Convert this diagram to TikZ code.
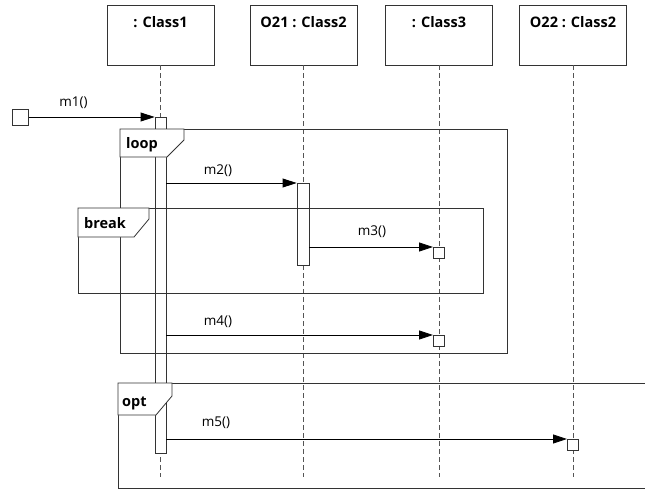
\documentclass[tikz,border=0pt]{standalone}
\usepackage{fontspec}
\setmainfont{Open Sans}
\usetikzlibrary{arrows.meta,positioning}
\definecolor{lineclr}{HTML}{333333}
\definecolor{lifeclr}{HTML}{555555}
\tikzset{
      headbox/.style={
        draw=lineclr,
        line width=0.8pt,
        minimum width=107pt,
        inner ysep=0pt,
        text height=22pt,
        text depth=38pt,
        font=\fontsize{14.5}{16}\selectfont\bfseries
      },
      lifeline/.style={draw=lifeclr, line width=0.8pt, dash pattern=on 5pt off 3pt},
      actbar/.style={draw=lineclr, fill=white, line width=0.8pt, minimum width=11pt, inner sep=0pt, anchor=north},
      endbox/.style={draw=lineclr, fill=white, line width=0.8pt, minimum size=11pt, inner sep=0pt, anchor=north west},
      msg/.style={-{Triangle[length=14pt,width=9pt]}, line width=0.8pt, draw=black},
      msglabel/.style={font=\fontsize{13.5}{15}\selectfont, inner sep=0pt},
      fragment/.style={draw=lineclr, line width=0.8pt},
      fragtab/.style={draw=lineclr, line width=0.8pt, fill=white},
      fraglabel/.style={font=\fontsize{14.5}{16}\selectfont\bfseries, anchor=west, inner sep=0pt}
    }
\begin{document}
\begin{tikzpicture}[x=1pt,y=-1pt]
    \clip (0,0) rectangle (645,490);
    % lifeline heads
    \node[headbox] (c1) at (160.5,35) {: Class1};
    \node[headbox] (o21) at (303.5,35) {O21 : Class2};
    \node[headbox] (c3) at (439,35) {: Class3};
    \node[headbox] (o22) at (573,35) {O22 : Class2};
    \coordinate (lifeend) at (0,477);
    \foreach \h in {c1,o21,c3,o22}
      \draw[lifeline] (\h.south) -- (\h.south |- lifeend);
    % activations
    \node[draw=lineclr, fill=white, line width=0.8pt, minimum width=16pt, minimum height=16pt, inner sep=0pt] (start) at (20.5,117) {};
    \node[actbar, minimum height=336pt] (act1) at (160.5,117) {};
    \node[actbar, minimum width=12pt, minimum height=82pt] (act2) at (303,183) {};
    \node[endbox] (r3) at (433,247) {};
    \node[endbox] (r4) at (433,335) {};
    \node[endbox] (r5) at (567,439) {};
    % combined fragments
    \draw[fragment] (120,129) rectangle (507,353);
    \draw[fragtab] (120,129) -- (184,129) -- (184,140) -- (167,157) -- (120,157) -- cycle;
    \node[fraglabel] (loopl) at (126,145) {loop};
    \draw[fragment] (78,208) rectangle (483,293);
    \draw[fragtab] (78,208) -- (149,208) -- (149,219) -- (134,237) -- (78,237) -- cycle;
    \node[fraglabel] (breakl) at (84,223) {break};
    \draw[fragment] (655,383) -- (118,383) -- (118,488) -- (655,488);
    \draw[fragtab] (118,383) -- (172,383) -- (172,396) -- (156,415) -- (118,415) -- cycle;
    \node[fraglabel] (optl) at (122,403) {opt};
    % messages
    \draw[msg] (start.east) -- (act1.north west);
    \draw[msg] (act1.east |- act2.north) -- (act2.north west);
    \draw[msg] (act2.east |- r3.north) -- (r3.north west);
    \draw[msg] (act1.east |- r4.north) -- (r4.north west);
    \draw[msg] (act1.east |- r5.north) -- (r5.north west);
    \node[msglabel] (m1l) at (73.5,103) {m1()};
    \node[msglabel] (m2l) at (218,171) {m2()};
    \node[msglabel] (m3l) at (372,232) {m3()};
    \node[msglabel] (m4l) at (218,322) {m4()};
    \node[msglabel] (m5l) at (216,423) {m5()};
\end{tikzpicture}
\end{document}
